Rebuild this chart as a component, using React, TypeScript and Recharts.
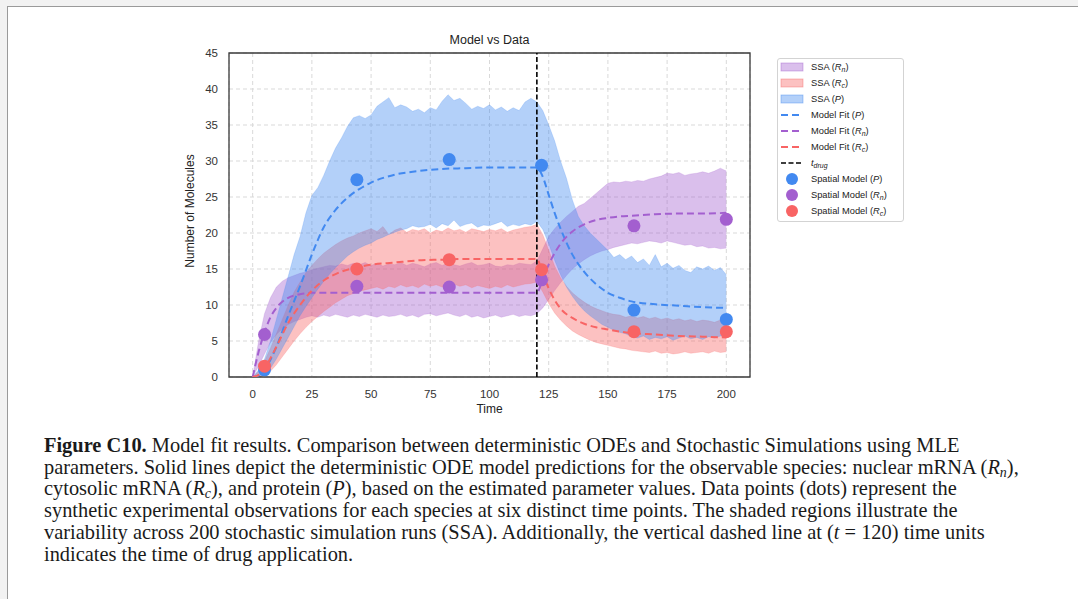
import React from "react";
import {
  Area,
  CartesianGrid,
  ComposedChart,
  Line,
  ReferenceArea,
  ReferenceLine,
  Scatter,
  XAxis,
  YAxis,
} from "recharts";

// matplotlib-ish palette used by the figure
const COLOR_P = "#4289f0";
const COLOR_RN = "#a35fcf";
const COLOR_RC = "#f86464";
const SANS = '"Liberation Sans", Arial, sans-serif';
const SERIF = '"Liberation Serif", "Times New Roman", serif';

const xTicks = [0, 25, 50, 75, 100, 125, 150, 175, 200];
const yTicks = [0, 5, 10, 15, 20, 25, 30, 35, 40, 45];

// SSA envelopes (200 runs), sampled every 2.5 time units
const ssaTime = [
  0, 2.5, 5, 7.5, 10, 12.5, 15, 17.5, 20, 22.5,
  25, 27.5, 30, 32.5, 35, 37.5, 40, 42.5, 45, 47.5,
  50, 52.5, 55, 57.5, 60, 62.5, 65, 67.5, 70, 72.5,
  75, 77.5, 80, 82.5, 85, 87.5, 90, 92.5, 95, 97.5,
  100, 102.5, 105, 107.5, 110, 112.5, 115, 117.5, 120, 122.5,
  125, 127.5, 130, 132.5, 135, 137.5, 140, 142.5, 145, 147.5,
  150, 152.5, 155, 157.5, 160, 162.5, 165, 167.5, 170, 172.5,
  175, 177.5, 180, 182.5, 185, 187.5, 190, 192.5, 195, 197.5,
  200,
];

const pHi = [
  0, 1, 2.5, 5, 8, 11, 14, 17, 19.5, 22.8,
  25.2, 26.3, 28, 30, 31.8, 33.2, 34.8, 36, 36.3, 35.9,
  36.4, 37.6, 38.2, 38.8, 37.4, 37.8, 37.5, 36.9, 37.2, 36.7,
  37.4, 37.1, 38.3, 39.2, 38.4, 38.7, 38, 37.2, 37.6, 37.3,
  37.8, 37.1, 37.5, 36.9, 37.4, 37, 38.2, 38.7, 38.2, 37,
  35, 32.8, 30, 27.6, 24.6, 22.3, 21, 20, 19.2, 18.4,
  17.6, 16.6, 17, 16.3, 16.8, 15.9, 16.4, 15.5, 17, 15.3,
  15.8, 15.1, 15.5, 14.8, 14.5, 15.3, 15, 15.4, 14.8, 15.2,
  14.2,
];
const pLo = [
  0, 0, 0.3, 1.2, 2.5, 4, 5.5, 7, 8.5, 9.8,
  11, 12.2, 13.3, 14.3, 15.2, 16, 16.8, 17.4, 17.9, 18.3,
  18.6, 19.1, 19.4, 19.8, 20.1, 20.4, 20.6, 21, 20.8, 20.9,
  21.2, 20.7, 21.3, 21, 21.8, 20.9, 21.2, 21.4, 20.8, 21.1,
  21, 21.3, 21.6, 20.9, 21.2, 21, 21.3, 21.1, 21.6, 20.5,
  18.5, 16.2, 14.2, 12.5, 11.2, 10.1, 9.2, 8.5, 7.9, 7.3,
  6.9, 6.5, 6.2, 6, 5.6, 5.4, 5.7, 5.2, 5.5, 5.3,
  5.6, 5.1, 5.4, 5.7, 5.3, 5.5, 5.2, 5.6, 5.4, 5.7,
  5.6,
];
const rcHi = [
  0, 0.8, 2.2, 4, 6, 8, 10, 11.8, 13.2, 14.5,
  15.5, 16.4, 17.2, 17.8, 18.4, 18.9, 19.3, 19.6, 20, 20.3,
  20.6, 20.2, 20.9, 19.8, 20.4, 20.7, 20.1, 20.5, 20.3, 20.6,
  20, 20.4, 20.2, 20.7, 20.3, 20.5, 20.1, 20.6, 20.4, 20.2,
  20.5, 20.3, 20.6, 20.1, 20.4, 20.6, 20.8, 20.9, 21.2, 19.8,
  17.6, 15.4, 13.8, 12.6, 11.7, 11, 10.4, 9.9, 9.5, 9.2,
  8.9, 8.7, 8.6, 8.3, 8.5, 8.2, 8.4, 8.1, 8.3, 8,
  8.2, 7.9, 8.1, 7.8, 8, 7.7, 7.9, 7.8, 7.6, 7.9,
  7.7,
];
const rcLo = [
  0, 0, 0.2, 0.8, 1.7, 2.8, 3.9, 5, 6, 6.9,
  7.7, 8.4, 9.1, 9.7, 10.3, 10.8, 11.3, 11.6, 11.9, 12.1,
  12.3, 12.5, 12.2, 12.6, 12.4, 12.8, 12.5, 12.7, 12.4, 12.9,
  12.6, 12.8, 12.5, 12.7, 12.9, 12.6, 12.8, 12.4, 12.7, 12.5,
  12.3, 12.6, 12.4, 12.8, 12.5, 12.7, 12.9, 13, 13.2, 11.8,
  10.2, 8.9, 7.9, 7.1, 6.4, 5.9, 5.5, 5.1, 4.8, 4.6,
  4.4, 4.2, 4, 3.9, 3.7, 3.6, 3.5, 3.4, 3.6, 3.3,
  3.4, 3.2, 3.3, 3.5, 3.3, 3.4, 3.5, 3.3, 3.6, 3.4,
  3.5,
];
const rnHi = [
  0, 5, 8.8, 11, 12.5, 13.3, 13.8, 14.1, 14.4, 14.6,
  14.9, 15.1, 15.3, 15.5, 15.4, 15.7, 15.5, 15.8, 15.6, 15.9,
  15.5, 15.8, 15.4, 15.7, 15.6, 15.9, 15.5, 15.8, 15.6, 15.3,
  15.7, 15.9, 15.5, 15.8, 15.6, 15.4, 15.7, 15.9, 15.5, 15.6,
  15.8, 15.4, 15.3, 15.6, 15.5, 15.8, 15.7, 15.6, 16.1, 17.8,
  19.5, 20.6, 21.5, 22.3, 23, 23.7, 24.1, 24.8, 25.5, 26.2,
  26.9, 27.1, 27, 27.2, 27.1, 27.3, 27.2, 27.5, 27.7, 27.9,
  28.3, 28.2, 28.4, 28, 28.2, 28.3, 28.5, 28.3, 28.6, 29,
  28.6,
];
const rnLo = [
  0, 1.5, 3.2, 4.8, 5.9, 6.7, 7.3, 7.7, 8, 8.3,
  8.5, 8.3, 8.6, 8.4, 8.7, 8.5, 8.3, 8.6, 8.4, 8.7,
  8.5, 8.3, 8.6, 8.4, 8.5, 8.7, 8.4, 8.6, 8.3, 8.7,
  8.8, 8.5, 8.7, 8.9, 8.6, 8.4, 8.7, 8.3, 8.5, 8.2,
  8.4, 8.6, 8.3, 8.5, 8.7, 8.4, 8.6, 8.5, 8.8, 9.6,
  10.8, 12, 13.1, 14.1, 15, 15.7, 16.3, 16.8, 17.2, 17.5,
  17.7, 18, 18.2, 18.4, 18.6, 18.5, 18.7, 18.9, 18.8, 18.6,
  18.9, 18.7, 18.5, 18.3, 18.4, 18.1, 18.2, 17.9, 18, 17.8,
  17.9,
];

// deterministic ODE fit
const fitTime = [
  0, 2.5, 5, 7.5, 10, 15, 20, 25, 30, 35, 40, 45, 50, 60, 70, 80, 90, 100,
  110, 120, 122.5, 125, 127.5, 130, 135, 140, 145, 150, 155, 160, 170, 180,
  190, 200,
];
const pFit = [
  0, 0.2, 1, 2.4, 4.2, 8.5, 12.6, 17, 20.8, 23.2, 24.9, 26.1, 27, 28.1, 28.6,
  28.9, 29, 29.1, 29.1, 29.1, 27.8, 25.3, 22.8, 20.6, 17, 14.6, 12.9, 11.7,
  11, 10.5, 10.1, 9.9, 9.7, 9.6,
];
const rnFit = [
  0, 3.5, 6.2, 8.3, 9.6, 11, 11.5, 11.7, 11.7, 11.7, 11.7, 11.7, 11.7, 11.7,
  11.7, 11.7, 11.7, 11.7, 11.7, 11.7, 13.6, 15.6, 17.2, 18.5, 20.2, 21.2,
  21.8, 22.1, 22.3, 22.4, 22.6, 22.7, 22.7, 22.8,
];
const rcFit = [
  0, 0.3, 1.2, 2.6, 4.2, 7.5, 10, 12, 13.4, 14.3, 14.9, 15.3, 15.6, 15.9,
  16.2, 16.3, 16.4, 16.4, 16.4, 16.4, 14.3, 12.3, 10.7, 9.5, 8.2, 7.4, 6.9,
  6.6, 6.3, 6.1, 5.9, 5.7, 5.6, 5.5,
];

// spatial model observations
const obsTime = [5, 44, 83, 122, 161, 200];
const pObs = [1.0, 27.4, 30.2, 29.4, 9.3, 8.0];
const rnObs = [5.9, 12.6, 12.5, 13.5, 21.0, 21.9];
const rcObs = [1.5, 15.0, 16.3, 14.9, 6.3, 6.3];

const band = (lo: number[], hi: number[]) =>
  ssaTime.map((t, i) => ({ t, range: [lo[i], hi[i]] }));
const series = (ts: number[], vs: number[]) =>
  ts.map((t, i) => ({ t, v: vs[i] }));

const dot = (color: string) => (props: any) =>
  <circle cx={props.cx} cy={props.cy} r={6.5} fill={color} />;

const subStyle = { fontSize: "0.75em", verticalAlign: "-0.25em", lineHeight: 0 };

function Sub({ s }: { s: string }) {
  return (
    <span style={{ fontStyle: "italic" }}>
      R<sub style={subStyle}>{s}</sub>
    </span>
  );
}

const legendRows: Array<{ kind: string; color: string; label: React.ReactNode }> = [
  { kind: "patch", color: COLOR_RN, label: <>SSA (<Sub s="n" />)</> },
  { kind: "patch", color: COLOR_RC, label: <>SSA (<Sub s="c" />)</> },
  { kind: "patch", color: COLOR_P, label: <>SSA (<i>P</i>)</> },
  { kind: "line", color: COLOR_P, label: <>Model Fit (<i>P</i>)</> },
  { kind: "line", color: COLOR_RN, label: <>Model Fit (<Sub s="n" />)</> },
  { kind: "line", color: COLOR_RC, label: <>Model Fit (<Sub s="c" />)</> },
  { kind: "drug", color: "#000", label: <i>t<sub style={subStyle}>drug</sub></i> },
  { kind: "dot", color: COLOR_P, label: <>Spatial Model (<i>P</i>)</> },
  { kind: "dot", color: COLOR_RN, label: <>Spatial Model (<Sub s="n" />)</> },
  { kind: "dot", color: COLOR_RC, label: <>Spatial Model (<Sub s="c" />)</> },
];

function LegendHandle({ kind, color }: { kind: string; color: string }) {
  return (
    <svg width={24} height={14} style={{ position: "absolute", left: 2, top: -7 }}>
      {kind === "patch" && (
        <rect x={1} y={3} width={22} height={8} fill={color} fillOpacity={0.4} stroke={color} strokeOpacity={0.5} strokeWidth={0.8} />
      )}
      {kind === "line" && (
        <line x1={1} x2={23} y1={7} y2={7} stroke={color} strokeWidth={2} strokeDasharray="7 4" />
      )}
      {kind === "drug" && (
        <line x1={1} x2={23} y1={7} y2={7} stroke={color} strokeWidth={1.6} strokeDasharray="5 2.5" />
      )}
      {kind === "dot" && <circle cx={12} cy={7} r={6} fill={color} />}
    </svg>
  );
}

// caption block: left edge and line pitch
const CAP_X = 44;
const CAP_Y = 452;
const CAP_LH = 21.7;

export default function App() {
  return (
    <div style={{ position: "fixed", left: 0, top: 0, width: 1078, height: 599, background: "#f2f2f2", overflow: "hidden" }}>
      <div style={{ position: "absolute", left: 7, top: 6, right: 0, bottom: 0, background: "#fff", borderLeft: "1px solid #9a9a9a", borderTop: "1px solid #9a9a9a" }} />

      <div style={{ position: "absolute", left: 0, top: 0 }}>
        <ComposedChart width={1078} height={420} margin={{ top: 53, right: 328, bottom: 3, left: 189 }}>
          <CartesianGrid strokeDasharray="4 3" stroke="#d9d9d9" />
          <XAxis
            dataKey="t"
            type="number"
            domain={[-10, 210]}
            ticks={xTicks}
            allowDataOverflow
            height={40}
            tickLine={false}
            axisLine={false}
            tickMargin={7}
            tick={{ fill: "#333", fontSize: 11.5, fontFamily: SANS }}
          />
          <YAxis
            type="number"
            domain={[0, 45]}
            ticks={yTicks}
            allowDataOverflow
            width={40}
            tickLine={false}
            axisLine={false}
            tickMargin={5}
            tick={{ fill: "#333", fontSize: 11.5, fontFamily: SANS }}
          />
          <Area data={band(rnLo, rnHi)} dataKey="range" type="linear" fill={COLOR_RN} fillOpacity={0.4} stroke={COLOR_RN} strokeOpacity={0.25} strokeWidth={0.8} isAnimationActive={false} />
          <Area data={band(rcLo, rcHi)} dataKey="range" type="linear" fill={COLOR_RC} fillOpacity={0.4} stroke={COLOR_RC} strokeOpacity={0.25} strokeWidth={0.8} isAnimationActive={false} />
          <Area data={band(pLo, pHi)} dataKey="range" type="linear" fill={COLOR_P} fillOpacity={0.4} stroke={COLOR_P} strokeOpacity={0.25} strokeWidth={0.8} isAnimationActive={false} />
          <Line data={series(fitTime, pFit)} dataKey="v" type="monotone" stroke={COLOR_P} strokeWidth={2} strokeDasharray="7 4" dot={false} isAnimationActive={false} />
          <Line data={series(fitTime, rnFit)} dataKey="v" type="monotone" stroke={COLOR_RN} strokeWidth={2} strokeDasharray="7 4" dot={false} isAnimationActive={false} />
          <Line data={series(fitTime, rcFit)} dataKey="v" type="monotone" stroke={COLOR_RC} strokeWidth={2} strokeDasharray="7 4" dot={false} isAnimationActive={false} />
          <ReferenceLine x={120} stroke="#000" strokeWidth={1.6} strokeDasharray="5 2.5" />
          <Scatter data={series(obsTime, pObs)} dataKey="v" shape={dot(COLOR_P)} isAnimationActive={false} />
          <Scatter data={series(obsTime, rnObs)} dataKey="v" shape={dot(COLOR_RN)} isAnimationActive={false} />
          <Scatter data={series(obsTime, rcObs)} dataKey="v" shape={dot(COLOR_RC)} isAnimationActive={false} />
          <ReferenceArea x1={-10} x2={210} y1={0} y2={45} fill="none" stroke="#3a3a3a" strokeWidth={1.3} ifOverflow="visible" />
        </ComposedChart>
      </div>

      {/* title and axis labels */}
      <div style={{ position: "absolute", left: 389, width: 201, top: 33, textAlign: "center", fontFamily: SANS, fontSize: 12.5, color: "#222" }}>
        Model vs Data
      </div>
      <div style={{ position: "absolute", left: 389, width: 201, top: 402, textAlign: "center", fontFamily: SANS, fontSize: 12, color: "#222" }}>
        Time
      </div>
      <div style={{ position: "absolute", left: 90, width: 200, top: 204, textAlign: "center", fontFamily: SANS, fontSize: 12, color: "#222", transform: "rotate(-90deg)" }}>
        Number of Molecules
      </div>

      {/* legend */}
      <div style={{ position: "absolute", left: 777, top: 58, width: 125, height: 162, border: "1px solid #d3d3d3", borderRadius: 3, background: "#fff", fontFamily: SANS, fontSize: 9.3, color: "#222" }}>
        {legendRows.map((r, i) => (
          <div key={i} style={{ position: "absolute", left: 0, top: 8 + i * 16 }}>
            <LegendHandle kind={r.kind} color={r.color} />
            <div style={{ position: "absolute", left: 33, top: -6, whiteSpace: "nowrap", lineHeight: "12px" }}>{r.label}</div>
          </div>
        ))}
      </div>

      {/* caption */}
      <svg width={1078} height={599} style={{ position: "absolute", left: 0, top: 0, pointerEvents: "none" }}>
        <g fontFamily={SERIF} fontSize={20.4} fill="#1a1a1a">
          <text x={CAP_X} y={CAP_Y}>
            <tspan fontWeight="bold">Figure C10.</tspan> Model fit results. Comparison between deterministic ODEs and Stochastic Simulations using MLE
          </text>
          <text x={CAP_X} y={CAP_Y + CAP_LH}>
            parameters. Solid lines depict the deterministic ODE model predictions for the observable species: nuclear mRNA (<tspan fontStyle="italic">R</tspan><tspan fontStyle="italic" fontSize={14} dy={3}>n</tspan><tspan dy={-3}>),</tspan>
          </text>
          <text x={CAP_X} y={CAP_Y + CAP_LH * 2}>
            cytosolic mRNA (<tspan fontStyle="italic">R</tspan><tspan fontStyle="italic" fontSize={14} dy={3}>c</tspan><tspan dy={-3}>), and protein (</tspan><tspan fontStyle="italic">P</tspan>), based on the estimated parameter values. Data points (dots) represent the
          </text>
          <text x={CAP_X} y={CAP_Y + CAP_LH * 3}>
            synthetic experimental observations for each species at six distinct time points. The shaded regions illustrate the
          </text>
          <text x={CAP_X} y={CAP_Y + CAP_LH * 4}>
            variability across 200 stochastic simulation runs (SSA). Additionally, the vertical dashed line at (<tspan fontStyle="italic">t</tspan> = 120) time units
          </text>
          <text x={CAP_X} y={CAP_Y + CAP_LH * 5}>
            indicates the time of drug application.
          </text>
        </g>
      </svg>
    </div>
  );
}
